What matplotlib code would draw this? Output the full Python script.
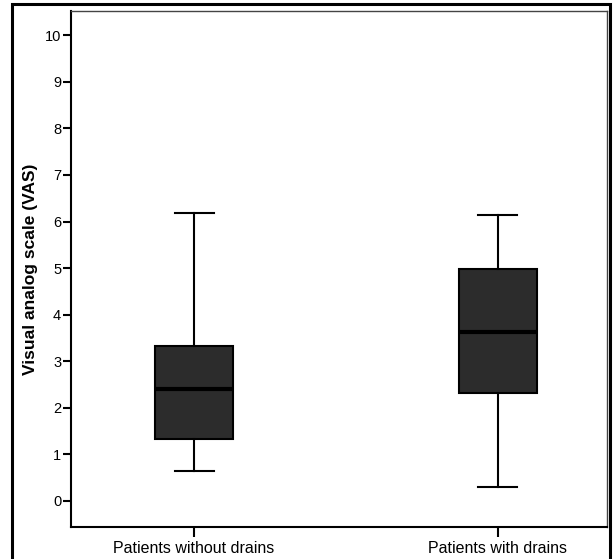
import matplotlib
matplotlib.use("Agg")
import matplotlib.pyplot as plt
from matplotlib.patches import Rectangle

plt.rcParams["font.family"] = ["Liberation Sans", "DejaVu Sans"]

# data
groups = ["Patients without drains", "Patients with drains"]
whisker_low = [0.64, 0.30]
q1 = [1.33, 2.32]
median = [2.40, 3.63]
q3 = [3.33, 4.98]
whisker_high = [6.18, 6.14]
yticks = list(range(0, 11))


def main():
    fig = plt.figure(figsize=(6.15, 5.59), dpi=100)
    ax = fig.add_axes([0.1154, 0.0572, 0.8716, 0.9231])

    stats = []
    for i, name in enumerate(groups):
        stats.append({
            "label": name,
            "whislo": whisker_low[i],
            "q1": q1[i],
            "med": median[i],
            "q3": q3[i],
            "whishi": whisker_high[i],
            "fliers": [],
        })

    ax.bxp(
        stats,
        positions=[1, 2],
        widths=0.257,
        patch_artist=True,
        showfliers=False,
        boxprops=dict(facecolor="#2c2c2c", edgecolor="black", linewidth=1.5),
        medianprops=dict(color="black", linewidth=3),
        whiskerprops=dict(color="black", linewidth=1.5),
        capprops=dict(color="black", linewidth=1.5),
    )

    ax.set_xlim(0.595, 2.359)
    ax.set_ylim(-0.56, 10.52)
    ax.set_yticks(yticks)
    ax.set_xticks([1, 2])
    ax.set_xticklabels(groups, fontsize=11.5)
    ax.tick_params(axis="y", labelsize=10.5, length=6, width=1.5, pad=1)
    ax.tick_params(axis="x", length=7, width=1.5, pad=3)
    ax.set_ylabel("Visual analog scale (VAS)", fontsize=12.5, fontweight="bold", labelpad=5)

    for side in ["left", "bottom"]:
        ax.spines[side].set_linewidth(1.5)
    for side in ["top", "right"]:
        ax.spines[side].set_linewidth(1.0)
        ax.spines[side].set_color("#444444")

    # outer frame, bottom edge cut off like the reference
    frame = Rectangle((12 / 615, -0.05), (610 - 12) / 615, 1.05 - 4 / 559,
                      transform=fig.transFigure, fill=False,
                      edgecolor="black", linewidth=2.2)
    fig.patches.append(frame)

    fig.savefig("out.png", dpi=100)


main()
